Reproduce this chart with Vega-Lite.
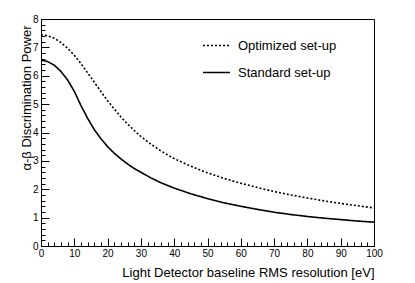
{
  "$schema": "https://vega.github.io/schema/vega-lite/v6.json",
  "autosize": "none",
  "width": 333,
  "height": 227,
  "padding": {"left": 41, "top": 19, "right": 41, "bottom": 37},
  "background": "white",
  "config": {
    "view": {"stroke": "black", "strokeWidth": 1},
    "font": "Liberation Sans"
  },
  "data": {"values": [
    {"x": 0, "D": 7.45, "setup": "Optimized set-up"},
    {"x": 2, "D": 7.41, "setup": "Optimized set-up"},
    {"x": 4, "D": 7.32, "setup": "Optimized set-up"},
    {"x": 6, "D": 7.17, "setup": "Optimized set-up"},
    {"x": 8, "D": 6.97, "setup": "Optimized set-up"},
    {"x": 10, "D": 6.72, "setup": "Optimized set-up"},
    {"x": 12, "D": 6.43, "setup": "Optimized set-up"},
    {"x": 14, "D": 6.10, "setup": "Optimized set-up"},
    {"x": 16, "D": 5.77, "setup": "Optimized set-up"},
    {"x": 18, "D": 5.44, "setup": "Optimized set-up"},
    {"x": 20, "D": 5.12, "setup": "Optimized set-up"},
    {"x": 22, "D": 4.83, "setup": "Optimized set-up"},
    {"x": 24, "D": 4.55, "setup": "Optimized set-up"},
    {"x": 26, "D": 4.30, "setup": "Optimized set-up"},
    {"x": 28, "D": 4.07, "setup": "Optimized set-up"},
    {"x": 30, "D": 3.86, "setup": "Optimized set-up"},
    {"x": 33, "D": 3.59, "setup": "Optimized set-up"},
    {"x": 36, "D": 3.35, "setup": "Optimized set-up"},
    {"x": 40, "D": 3.08, "setup": "Optimized set-up"},
    {"x": 45, "D": 2.81, "setup": "Optimized set-up"},
    {"x": 50, "D": 2.58, "setup": "Optimized set-up"},
    {"x": 55, "D": 2.38, "setup": "Optimized set-up"},
    {"x": 60, "D": 2.21, "setup": "Optimized set-up"},
    {"x": 65, "D": 2.06, "setup": "Optimized set-up"},
    {"x": 70, "D": 1.92, "setup": "Optimized set-up"},
    {"x": 75, "D": 1.80, "setup": "Optimized set-up"},
    {"x": 80, "D": 1.69, "setup": "Optimized set-up"},
    {"x": 85, "D": 1.59, "setup": "Optimized set-up"},
    {"x": 90, "D": 1.50, "setup": "Optimized set-up"},
    {"x": 95, "D": 1.42, "setup": "Optimized set-up"},
    {"x": 100, "D": 1.34, "setup": "Optimized set-up"},
    {"x": 0, "D": 6.55, "setup": "Standard set-up"},
    {"x": 2, "D": 6.50, "setup": "Standard set-up"},
    {"x": 4, "D": 6.37, "setup": "Standard set-up"},
    {"x": 6, "D": 6.15, "setup": "Standard set-up"},
    {"x": 8, "D": 5.85, "setup": "Standard set-up"},
    {"x": 10, "D": 5.45, "setup": "Standard set-up"},
    {"x": 12, "D": 4.95, "setup": "Standard set-up"},
    {"x": 14, "D": 4.50, "setup": "Standard set-up"},
    {"x": 16, "D": 4.10, "setup": "Standard set-up"},
    {"x": 18, "D": 3.78, "setup": "Standard set-up"},
    {"x": 20, "D": 3.50, "setup": "Standard set-up"},
    {"x": 22, "D": 3.27, "setup": "Standard set-up"},
    {"x": 24, "D": 3.07, "setup": "Standard set-up"},
    {"x": 26, "D": 2.89, "setup": "Standard set-up"},
    {"x": 28, "D": 2.73, "setup": "Standard set-up"},
    {"x": 30, "D": 2.60, "setup": "Standard set-up"},
    {"x": 33, "D": 2.40, "setup": "Standard set-up"},
    {"x": 36, "D": 2.23, "setup": "Standard set-up"},
    {"x": 40, "D": 2.04, "setup": "Standard set-up"},
    {"x": 45, "D": 1.84, "setup": "Standard set-up"},
    {"x": 50, "D": 1.67, "setup": "Standard set-up"},
    {"x": 55, "D": 1.52, "setup": "Standard set-up"},
    {"x": 60, "D": 1.40, "setup": "Standard set-up"},
    {"x": 65, "D": 1.29, "setup": "Standard set-up"},
    {"x": 70, "D": 1.19, "setup": "Standard set-up"},
    {"x": 75, "D": 1.11, "setup": "Standard set-up"},
    {"x": 80, "D": 1.04, "setup": "Standard set-up"},
    {"x": 85, "D": 0.98, "setup": "Standard set-up"},
    {"x": 90, "D": 0.93, "setup": "Standard set-up"},
    {"x": 95, "D": 0.88, "setup": "Standard set-up"},
    {"x": 100, "D": 0.84, "setup": "Standard set-up"}
  ]},
  "mark": {"type": "line", "color": "black", "strokeWidth": 1.6, "clip": true},
  "encoding": {
    "x": {
      "field": "x", "type": "quantitative",
      "scale": {"domain": [0, 100], "nice": false, "zero": false},
      "axis": {
        "title": "Light Detector baseline RMS resolution [eV]",
        "values": [0,2,4,6,8,10,12,14,16,18,20,22,24,26,28,30,32,34,36,38,40,42,44,46,48,50,52,54,56,58,60,62,64,66,68,70,72,74,76,78,80,82,84,86,88,90,92,94,96,98,100],
        "format": "d",
        "labelExpr": "datum.value % 10 === 0 ? datum.label : ''",
        "labelFlush": false,
        "labelOverlap": false,
        "tickSize": {"condition": {"test": "datum.value % 10 === 0", "value": -8}, "value": -4},
        "tickColor": "black",
        "tickWidth": 1,
        "domainColor": "black",
        "grid": false,
        "labelFontSize": 10,
        "labelColor": "black",
        "labelPadding": 10,
        "titleFontSize": 13,
        "titleFontWeight": "normal",
        "titleColor": "black",
        "titleAnchor": "end",
        "titleAlign": "right",
        "titleX": 333,
        "titleY": 26,
        "titleBaseline": "middle"
      }
    },
    "y": {
      "field": "D", "type": "quantitative",
      "scale": {"domain": [0, 8], "nice": false},
      "axis": {
        "title": "α-β Discrimination Power",
        "values": [0,0.2,0.4,0.6,0.8,1,1.2,1.4,1.6,1.8,2,2.2,2.4,2.6,2.8,3,3.2,3.4,3.6,3.8,4,4.2,4.4,4.6,4.8,5,5.2,5.4,5.6,5.8,6,6.2,6.4,6.6,6.8,7,7.2,7.4,7.6,7.8,8],
        "format": "~g",
        "labelExpr": "abs(datum.value - round(datum.value)) < 0.001 ? datum.label : ''",
        "labelFlush": false,
        "labelOverlap": false,
        "tickSize": {"condition": {"test": "abs(datum.value - round(datum.value)) < 0.001", "value": -8}, "value": -4},
        "tickColor": "black",
        "tickWidth": 1,
        "domainColor": "black",
        "grid": false,
        "labelFontSize": 10,
        "labelColor": "black",
        "labelPadding": 11,
        "titleFontSize": 13,
        "titleFontWeight": "normal",
        "titleColor": "black",
        "titleAnchor": "end",
        "titleAngle": -90,
        "titleAlign": "right",
        "titleX": -15,
        "titleY": 6,
        "titleBaseline": "middle"
      }
    },
    "strokeDash": {
      "field": "setup", "type": "nominal",
      "scale": {"domain": ["Optimized set-up", "Standard set-up"], "range": [[2, 2], [1, 0]]},
      "legend": {
        "title": null,
        "orient": "none",
        "legendX": 161,
        "legendY": 12,
        "symbolType": "stroke",
        "symbolSize": 729,
        "symbolStrokeColor": "black",
        "symbolStrokeWidth": 1.6,
        "labelFontSize": 13,
        "labelColor": "black",
        "labelOffset": 7,
        "rowPadding": 5,
        "padding": 0
      }
    }
  }
}
